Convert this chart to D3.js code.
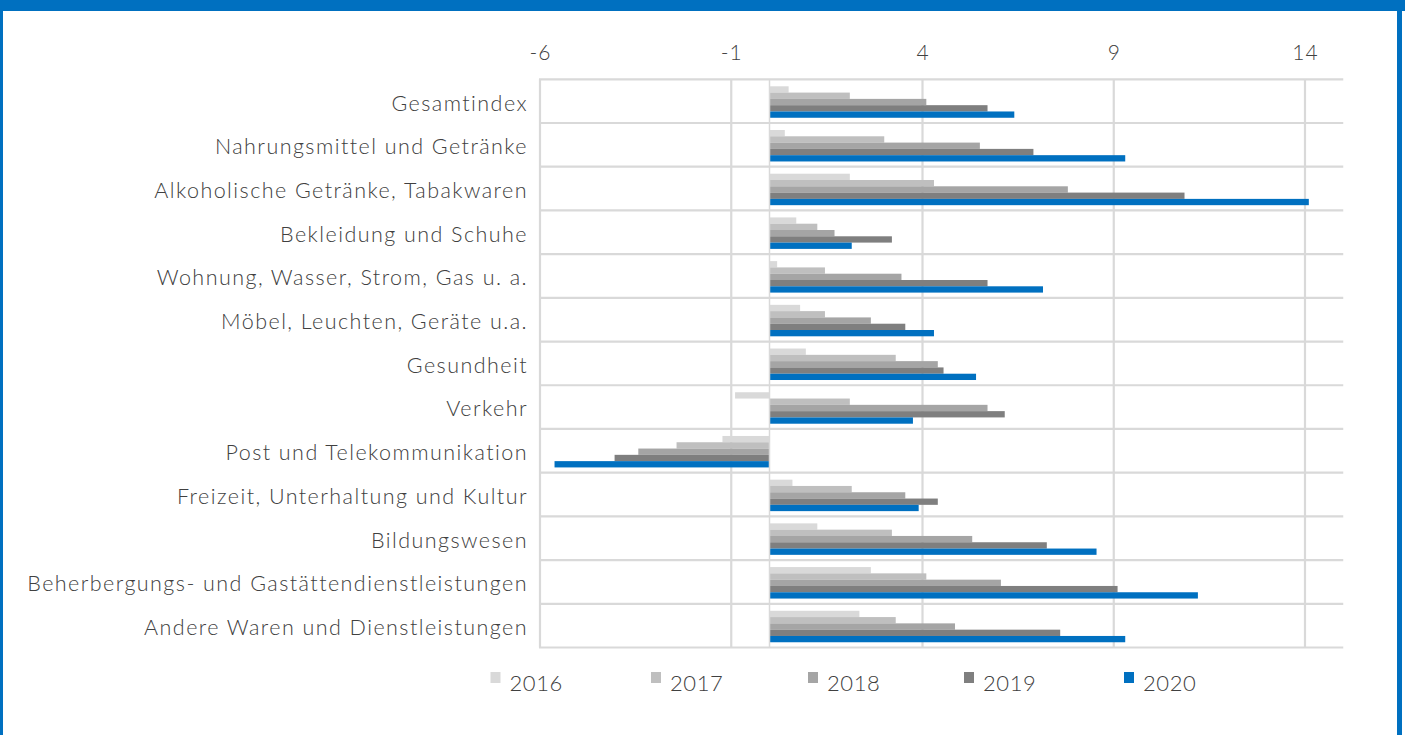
<!DOCTYPE html>
<html>
<head>
<meta charset="utf-8">
<script src="https://cdn.jsdelivr.net/npm/d3@7"></script>
<style>
  html, body { margin: 0; padding: 0; background: #fff; }
  svg { display: block; }
  text { font-family: Lato, "Open Sans", sans-serif; font-weight: 300; fill: #404040; }
</style>
</head>
<body>
<svg id="chart" width="1405" height="735"></svg>
<script>
// Categories (top to bottom)
const categories = [
  "Gesamtindex",
  "Nahrungsmittel und Getränke",
  "Alkoholische Getränke, Tabakwaren",
  "Bekleidung und Schuhe",
  "Wohnung, Wasser, Strom, Gas u. a.",
  "Möbel, Leuchten, Geräte u.a.",
  "Gesundheit",
  "Verkehr",
  "Post und Telekommunikation",
  "Freizeit, Unterhaltung und Kultur",
  "Bildungswesen",
  "Beherbergungs- und Gastättendienstleistungen",
  "Andere Waren und Dienstleistungen"
];

const years = ["2016", "2017", "2018", "2019", "2020"];

// Values per year, in category order
const values2016 = [0.5, 0.4, 2.1, 0.7, 0.2, 0.8, 0.95, -0.9, -1.23, 0.6, 1.25, 2.65, 2.35];
const values2017 = [2.1, 3.0, 4.3, 1.25, 1.45, 1.45, 3.3, 2.1, -2.43, 2.15, 3.2, 4.1, 3.3];
const values2018 = [4.1, 5.5, 7.8, 1.7, 3.45, 2.65, 4.4, 5.7, -3.43, 3.55, 5.3, 6.05, 4.85];
const values2019 = [5.7, 6.9, 10.85, 3.2, 5.7, 3.55, 4.55, 6.15, -4.05, 4.4, 7.25, 9.1, 7.6];
const values2020 = [6.4, 9.3, 14.1, 2.15, 7.15, 4.3, 5.4, 3.75, -5.62, 3.9, 8.55, 11.2, 9.3];

const seriesValues = [values2016, values2017, values2018, values2019, values2020];
const seriesColors = ["#d9d9d9", "#bfbfbf", "#a5a5a5", "#7f7f7f", "#0070c0"];

// Axis tick labels
const tickValues = [-6, -1, 4, 9, 14];
const xDomain = [-6, 15];

const svg = d3.select("#chart");
const W = 1405, H = 735;

// Frame
svg.append("rect").attr("x", 0).attr("y", 0).attr("width", W).attr("height", 11).attr("fill", "#0070c0");
svg.append("rect").attr("x", 0).attr("y", 0).attr("width", 3).attr("height", H).attr("fill", "#0070c0");
svg.append("rect").attr("x", 1397).attr("y", 0).attr("width", 5).attr("height", H).attr("fill", "#0070c0");

const plot = { left: 540, right: 1343.25, top: 79.3, bottom: 647.5 };

const x = d3.scaleLinear().domain(xDomain).range([plot.left, plot.right]);
const y = d3.scaleBand().domain(categories).range([plot.top, plot.bottom]).padding(0);
const bw = y.bandwidth();
const yInner = d3.scaleBand().domain(years).range([bw * 0.16, bw * 0.88]).padding(0);

const grid = svg.append("g");
// horizontal separators between categories
const hLines = categories.map(c => y(c)).concat([plot.bottom]);
grid.selectAll("line.h").data(hLines).join("line")
  .attr("x1", plot.left - 1).attr("x2", plot.right)
  .attr("y1", d => d).attr("y2", d => d)
  .attr("stroke", "#d9d9d9").attr("stroke-width", 2.2);
// vertical gridlines at ticks
grid.selectAll("line.v").data(tickValues).join("line")
  .attr("x1", d => x(d)).attr("x2", d => x(d))
  .attr("y1", plot.top).attr("y2", plot.bottom)
  .attr("stroke", "#d9d9d9").attr("stroke-width", 2.2);

// top axis labels
const xAxis = d3.axisTop(x).tickValues(tickValues).tickSize(0).tickPadding(0)
  .tickFormat(d => String(d));
const axisG = svg.append("g").attr("transform", `translate(0, 60)`).call(xAxis);
axisG.select(".domain").remove();
axisG.selectAll("text")
  .attr("font-size", 21).attr("fill", "#404040")
  .style("font-family", "Lato, sans-serif").style("font-weight", 300)
  .style("letter-spacing", "1px");

// bars
const barsG = svg.append("g");
years.forEach((yr, i) => {
  barsG.selectAll(null).data(seriesValues[i]).join("rect")
    .attr("x", d => x(Math.min(0, d)))
    .attr("width", d => Math.abs(x(d) - x(0)))
    .attr("y", (d, j) => y(categories[j]) + yInner(yr))
    .attr("height", yInner.bandwidth())
    .attr("fill", seriesColors[i]);
});

// zero line
svg.append("line")
  .attr("x1", x(0)).attr("x2", x(0))
  .attr("y1", plot.top).attr("y2", plot.bottom)
  .attr("stroke", "#d9d9d9").attr("stroke-width", 1.5);

// category labels
const yAxis = d3.axisLeft(y).tickSize(0).tickPadding(0);
const yG = svg.append("g").attr("transform", `translate(528, 2.5)`).call(yAxis);
yG.select(".domain").remove();
yG.selectAll("text")
  .attr("font-size", 21.5).attr("fill", "#404040")
  .style("font-family", "Lato, sans-serif").style("font-weight", 300)
  .style("letter-spacing", "1.45px");

// legend
const legendX = [490.5, 651, 808, 964, 1124];
const legend = svg.append("g");
years.forEach((yr, i) => {
  const g = legend.append("g").attr("transform", `translate(${legendX[i]}, 0)`);
  g.append("rect").attr("x", 0).attr("y", 672).attr("width", 10).attr("height", 11).attr("fill", seriesColors[i]);
  g.append("text").attr("x", 19).attr("y", 691).attr("font-size", 22)
    .style("letter-spacing", "0.6px").text(yr);
});
</script>
</body>
</html>
